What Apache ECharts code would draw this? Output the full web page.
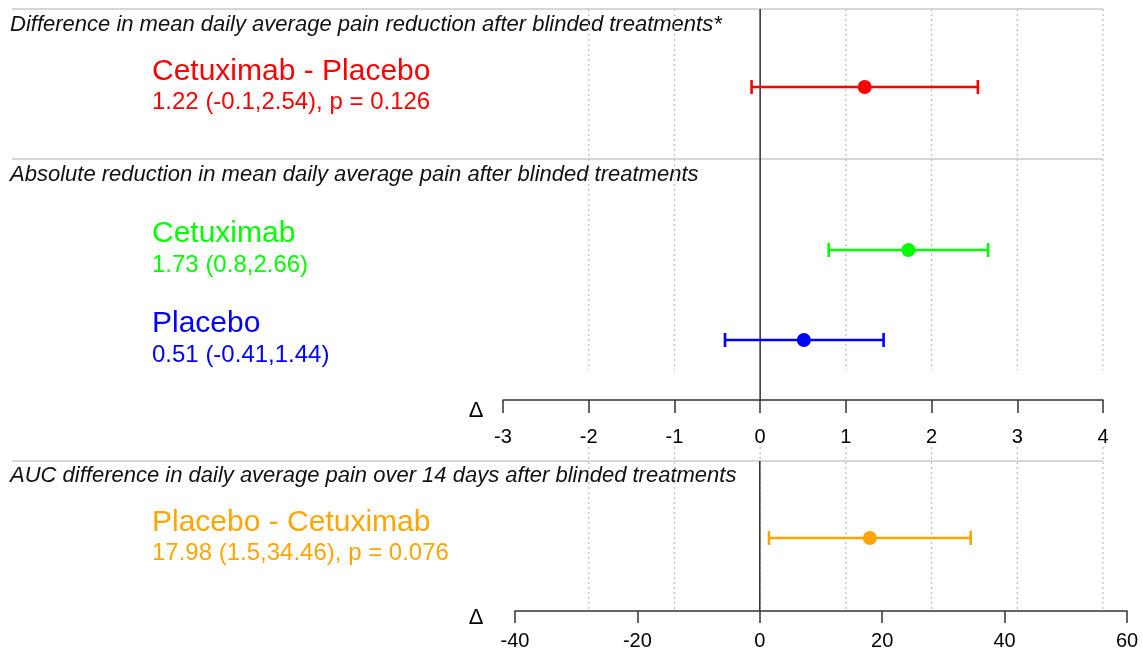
<!DOCTYPE html>
<html>
<head>
<meta charset="utf-8">
<script src="https://cdn.jsdelivr.net/npm/echarts@6/dist/echarts.min.js"></script>
<style>
html,body{margin:0;padding:0;background:#fff;}
#chart{width:1143px;height:656px;}
</style>
</head>
<body>
<div id="chart"></div>
<script>
// ---------- DATA ----------
const sectionTitles = [
  'Difference in mean daily average pain reduction after blinded treatments*',
  'Absolute reduction in mean daily average pain after blinded treatments',
  'AUC difference in daily average pain over 14 days after blinded treatments'
];
const groupNames = ['Cetuximab - Placebo', 'Cetuximab', 'Placebo', 'Placebo - Cetuximab'];
const estimates = [1.22, 1.73, 0.51, 17.98];
const lowerCI = [-0.1, 0.8, -0.41, 1.5];
const upperCI = [2.54, 2.66, 1.44, 34.46];
const pValues = [0.126, null, null, 0.076];
const groupColors = ['#FF0000', '#00FF00', '#0000FF', '#FFA500'];
const topTicks = [-3, -2, -1, 0, 1, 2, 3, 4];
const bottomTicks = [-40, -20, 0, 20, 40, 60];
const topGridLineValues = [-2, -1, 1, 2, 3, 4];
const bottomGridLineValues = [-2, -1, 0, 1, 2, 3, 4];

// ---------- LAYOUT ----------
const FONT = '"Liberation Sans", Arial, sans-serif';
const rowPos = [78, 241, 331, 77];      // vertical position of each row inside its panel (px units of the panel's y scale)
const rowPanel = [0, 0, 0, 1];
const nameY = [72, 234, 324, 523];
const statY = [102, 265, 355, 553];
const titleY = [25, 175, 476];
const sepY = [9, 159, 461];

function statText(i) {
  let s = estimates[i] + ' (' + lowerCI[i] + ',' + upperCI[i] + ')';
  if (pValues[i] !== null) s += ', p = ' + pValues[i];
  return s;
}

function renderCI(params, api) {
  const y = api.value(3);
  const lo = api.coord([api.value(1), y]);
  const hi = api.coord([api.value(2), y]);
  const mid = api.coord([api.value(0), y]);
  const color = api.visual('color');
  const cap = 7;
  const st = {stroke: color, lineWidth: 2.6};
  return {type: 'group', children: [
    {type: 'line', shape: {x1: lo[0], y1: lo[1], x2: hi[0], y2: hi[1]}, style: st},
    {type: 'line', shape: {x1: lo[0], y1: lo[1] - cap, x2: lo[0], y2: lo[1] + cap}, style: st},
    {type: 'line', shape: {x1: hi[0], y1: hi[1] - cap, x2: hi[0], y2: hi[1] + cap}, style: st},
    {type: 'circle', shape: {cx: mid[0], cy: mid[1], r: 7}, style: {fill: color}}
  ]};
}

function vlineRenderer(y0, y1, style) {
  return function (params, api) {
    const a = api.coord([api.value(0), y0]);
    const b = api.coord([api.value(0), y1]);
    return {type: 'line', shape: {x1: a[0], y1: a[1], x2: b[0], y2: b[1]}, style: style};
  };
}

const dotted = {stroke: '#c0c0c0', lineWidth: 1.3, lineDash: [2, 3]};
const zeroStyle = {stroke: '#3a3a3a', lineWidth: 1.6};

function ciData(panel) {
  const out = [];
  for (let i = 0; i < groupNames.length; i++) {
    if (rowPanel[i] !== panel) continue;
    out.push({value: [estimates[i], lowerCI[i], upperCI[i], rowPos[i]], itemStyle: {color: groupColors[i]}});
  }
  return out;
}

const graphics = [];
sepY.forEach(function (y) {
  graphics.push({type: 'line', shape: {x1: 12, y1: y, x2: 1103, y2: y}, style: {stroke: '#c8c8c8', lineWidth: 1.5}, z: 1});
});
sectionTitles.forEach(function (t, i) {
  graphics.push({type: 'text', x: 10, y: titleY[i], style: {text: t, font: 'italic 22px ' + FONT, fill: '#111', verticalAlign: 'middle', align: 'left'}});
});
groupNames.forEach(function (n, i) {
  graphics.push({type: 'text', x: 152, y: nameY[i], style: {text: n, font: '30px ' + FONT, fill: groupColors[i], verticalAlign: 'middle', align: 'left'}});
  graphics.push({type: 'text', x: 152, y: statY[i], style: {text: statText(i), font: '24px ' + FONT, fill: groupColors[i], verticalAlign: 'middle', align: 'left'}});
});
graphics.push({type: 'text', x: 476, y: 411, style: {text: 'Δ', font: '22px ' + FONT, fill: '#000', verticalAlign: 'middle', align: 'center'}});
graphics.push({type: 'text', x: 476, y: 618, style: {text: 'Δ', font: '22px ' + FONT, fill: '#000', verticalAlign: 'middle', align: 'center'}});

const axisCommon = {
  type: 'value',
  axisLine: {show: true, onZero: false, lineStyle: {color: '#333', width: 1.5}},
  axisTick: {show: true, inside: false, lineStyle: {color: '#333', width: 1.5}},
  splitLine: {show: false},
  axisLabel: {color: '#000', fontSize: 20, fontFamily: FONT}
};

const option = {
  animation: false,
  backgroundColor: '#fff',
  grid: [
    {left: 503, width: 600, top: 9, height: 391},
    {left: 515, width: 612, top: 461, height: 150},
    {left: 503, width: 600, top: 447, height: 164}
  ],
  xAxis: [
    Object.assign({}, axisCommon, {gridIndex: 0, min: topTicks[0], max: topTicks[topTicks.length - 1], interval: 1,
      axisTick: Object.assign({}, axisCommon.axisTick, {length: 13}),
      axisLabel: Object.assign({}, axisCommon.axisLabel, {margin: 27})}),
    Object.assign({}, axisCommon, {gridIndex: 1, min: bottomTicks[0], max: bottomTicks[bottomTicks.length - 1], interval: 20,
      axisTick: Object.assign({}, axisCommon.axisTick, {length: 12}),
      axisLabel: Object.assign({}, axisCommon.axisLabel, {margin: 20})}),
    {type: 'value', gridIndex: 2, min: topTicks[0], max: topTicks[topTicks.length - 1], show: false}
  ],
  yAxis: [
    {type: 'value', gridIndex: 0, min: 0, max: 391, inverse: true, show: false},
    {type: 'value', gridIndex: 1, min: 0, max: 150, inverse: true, show: false},
    {type: 'value', gridIndex: 2, min: 0, max: 1, inverse: true, show: false}
  ],
  graphic: graphics,
  series: [
    {type: 'custom', xAxisIndex: 0, yAxisIndex: 0, z: 1, silent: true,
      data: topGridLineValues.map(function (v) { return [v]; }),
      renderItem: vlineRenderer(0, 361, dotted)},
    {type: 'custom', xAxisIndex: 2, yAxisIndex: 2, z: 1, silent: true,
      data: bottomGridLineValues.map(function (v) { return [v]; }),
      renderItem: vlineRenderer(0, 1, dotted)},
    {type: 'custom', xAxisIndex: 0, yAxisIndex: 0, z: 2, silent: true,
      data: [[0]], renderItem: vlineRenderer(0, 391, zeroStyle)},
    {type: 'custom', xAxisIndex: 1, yAxisIndex: 1, z: 2, silent: true,
      data: [[0]], renderItem: vlineRenderer(0, 150, zeroStyle)},
    {type: 'custom', xAxisIndex: 0, yAxisIndex: 0, z: 5, data: ciData(0), renderItem: renderCI},
    {type: 'custom', xAxisIndex: 1, yAxisIndex: 1, z: 5, data: ciData(1), renderItem: renderCI}
  ]
};

const chart = echarts.init(document.getElementById('chart'), null, {renderer: 'canvas'});
chart.setOption(option);
</script>
</body>
</html>
